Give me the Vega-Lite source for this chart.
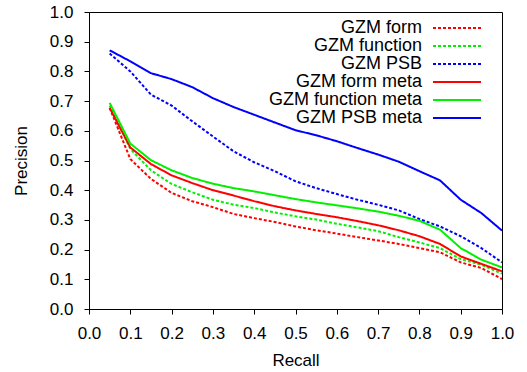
{
  "$schema": "https://vega.github.io/schema/vega-lite/v6.json",
  "width": 413,
  "height": 297,
  "autosize": {"type": "none"},
  "padding": {"left": 89, "top": 12, "right": 25, "bottom": 63},
  "background": "white",
  "data": {
    "values": [
      {"r": 0.05, "GZM form": 0.677, "GZM function": 0.685, "GZM PSB": 0.860, "GZM form meta": 0.677, "GZM function meta": 0.694, "GZM PSB meta": 0.871},
      {"r": 0.10, "GZM form": 0.505, "GZM function": 0.539, "GZM PSB": 0.800, "GZM form meta": 0.544, "GZM function meta": 0.557, "GZM PSB meta": 0.834},
      {"r": 0.15, "GZM form": 0.438, "GZM function": 0.467, "GZM PSB": 0.722, "GZM form meta": 0.488, "GZM function meta": 0.501, "GZM PSB meta": 0.794},
      {"r": 0.20, "GZM form": 0.391, "GZM function": 0.421, "GZM PSB": 0.685, "GZM form meta": 0.450, "GZM function meta": 0.467, "GZM PSB meta": 0.774},
      {"r": 0.25, "GZM form": 0.363, "GZM function": 0.393, "GZM PSB": 0.632, "GZM form meta": 0.424, "GZM function meta": 0.441, "GZM PSB meta": 0.747},
      {"r": 0.30, "GZM form": 0.343, "GZM function": 0.368, "GZM PSB": 0.581, "GZM form meta": 0.400, "GZM function meta": 0.422, "GZM PSB meta": 0.710},
      {"r": 0.35, "GZM form": 0.320, "GZM function": 0.351, "GZM PSB": 0.531, "GZM form meta": 0.382, "GZM function meta": 0.407, "GZM PSB meta": 0.680},
      {"r": 0.40, "GZM form": 0.306, "GZM function": 0.340, "GZM PSB": 0.494, "GZM form meta": 0.363, "GZM function meta": 0.396, "GZM PSB meta": 0.654},
      {"r": 0.45, "GZM form": 0.293, "GZM function": 0.325, "GZM PSB": 0.464, "GZM form meta": 0.346, "GZM function meta": 0.383, "GZM PSB meta": 0.628},
      {"r": 0.50, "GZM form": 0.278, "GZM function": 0.312, "GZM PSB": 0.430, "GZM form meta": 0.332, "GZM function meta": 0.370, "GZM PSB meta": 0.602},
      {"r": 0.55, "GZM form": 0.265, "GZM function": 0.301, "GZM PSB": 0.407, "GZM form meta": 0.320, "GZM function meta": 0.359, "GZM PSB meta": 0.585},
      {"r": 0.60, "GZM form": 0.254, "GZM function": 0.287, "GZM PSB": 0.387, "GZM form meta": 0.309, "GZM function meta": 0.349, "GZM PSB meta": 0.565},
      {"r": 0.65, "GZM form": 0.242, "GZM function": 0.275, "GZM PSB": 0.368, "GZM form meta": 0.296, "GZM function meta": 0.339, "GZM PSB meta": 0.542},
      {"r": 0.70, "GZM form": 0.231, "GZM function": 0.262, "GZM PSB": 0.351, "GZM form meta": 0.282, "GZM function meta": 0.328, "GZM PSB meta": 0.520},
      {"r": 0.75, "GZM form": 0.219, "GZM function": 0.242, "GZM PSB": 0.332, "GZM form meta": 0.265, "GZM function meta": 0.314, "GZM PSB meta": 0.496},
      {"r": 0.80, "GZM form": 0.205, "GZM function": 0.224, "GZM PSB": 0.303, "GZM form meta": 0.245, "GZM function meta": 0.297, "GZM PSB meta": 0.464},
      {"r": 0.85, "GZM form": 0.191, "GZM function": 0.205, "GZM PSB": 0.278, "GZM form meta": 0.219, "GZM function meta": 0.267, "GZM PSB meta": 0.433},
      {"r": 0.90, "GZM form": 0.157, "GZM function": 0.168, "GZM PSB": 0.245, "GZM form meta": 0.177, "GZM function meta": 0.205, "GZM PSB meta": 0.368},
      {"r": 0.95, "GZM form": 0.138, "GZM function": 0.149, "GZM PSB": 0.205, "GZM form meta": 0.152, "GZM function meta": 0.166, "GZM PSB meta": 0.323},
      {"r": 1.00, "GZM form": 0.101, "GZM function": 0.119, "GZM PSB": 0.157, "GZM form meta": 0.127, "GZM function meta": 0.140, "GZM PSB meta": 0.264}
    ]
  },
  "transform": [
    {"fold": ["GZM form", "GZM function", "GZM PSB", "GZM form meta", "GZM function meta", "GZM PSB meta"], "as": ["series", "p"]}
  ],
  "mark": {"type": "line", "strokeWidth": 2, "clip": true},
  "encoding": {
    "x": {
      "field": "r", "type": "quantitative",
      "scale": {"domain": [0, 1], "nice": false, "zero": false},
      "axis": {"title": "Recall", "values": [0, 0.1, 0.2, 0.3, 0.4, 0.5, 0.6, 0.7, 0.8, 0.9, 1.0], "format": ".1f", "titlePadding": 11, "labelPadding": 11}
    },
    "y": {
      "field": "p", "type": "quantitative",
      "scale": {"domain": [0, 1], "nice": false},
      "axis": {"title": "Precision", "values": [0, 0.1, 0.2, 0.3, 0.4, 0.5, 0.6, 0.7, 0.8, 0.9, 1.0], "format": ".1f", "titlePadding": 19, "labelPadding": 11}
    },
    "color": {
      "field": "series", "type": "nominal",
      "scale": {
        "domain": ["GZM form", "GZM function", "GZM PSB", "GZM form meta", "GZM function meta", "GZM PSB meta"],
        "range": ["#ff0000", "#00f000", "#0000ff", "#ff0000", "#00f000", "#0000ff"]
      },
      "legend": {
        "orient": "none", "legendX": 359, "legendY": 7, "title": null,
        "symbolType": "M-6,0H6", "symbolSize": 64, "symbolStrokeWidth": 2,
        "labelAlign": "right", "labelOffset": -44, "labelFontSize": 18,
        "rowPadding": 0, "padding": 0, "labelLimit": 300
      }
    },
    "strokeDash": {
      "field": "series", "type": "nominal",
      "scale": {
        "domain": ["GZM form", "GZM function", "GZM PSB", "GZM form meta", "GZM function meta", "GZM PSB meta"],
        "range": [[3, 2], [3, 2], [3, 2], [1, 0], [1, 0], [1, 0]]
      }
    }
  },
  "config": {
    "font": "Liberation Sans",
    "view": {"stroke": "black", "strokeWidth": 1},
    "axis": {
      "grid": false, "domainColor": "black", "tickColor": "black", "tickSize": 5,
      "labelColor": "black", "labelFontSize": 17, "labelFlush": false, "labelOverlap": false,
      "titleColor": "black", "titleFontSize": 17, "titleFontWeight": "normal"
    },
    "legend": {"labelColor": "black", "labelFont": "Liberation Sans"}
  }
}
